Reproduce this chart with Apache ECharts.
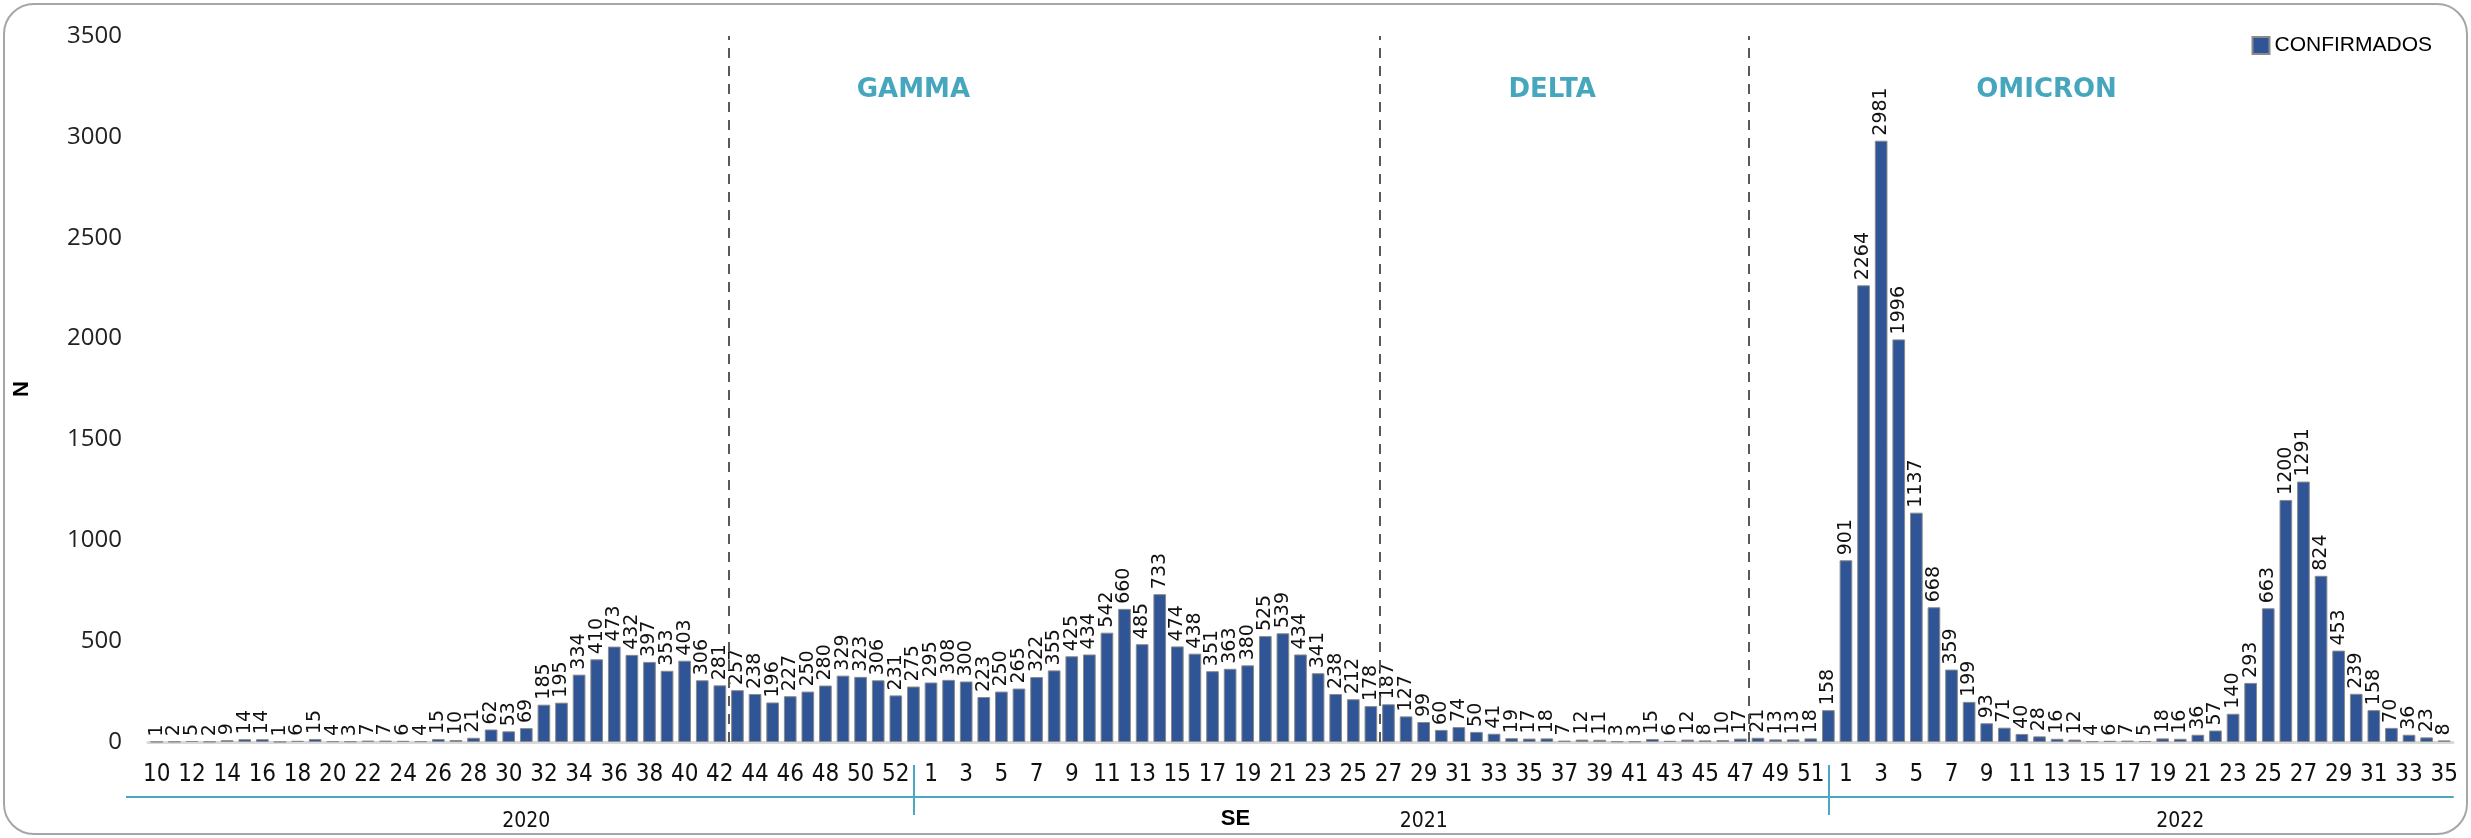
<!DOCTYPE html>
<html>
<head>
<meta charset="utf-8">
<script src="https://cdn.jsdelivr.net/npm/echarts@6/dist/echarts.min.js"></script>
<style>
html,body{margin:0;padding:0;background:#fff;}
#c{width:2471px;height:838px;}
</style>
</head>
<body>
<div id="c"></div>
<script>
// ---- Data ----
const weeks2020 = [10,11,12,13,14,15,16,17,18,19,20,21,22,23,24,25,26,27,28,29,30,31,32,33,34,35,36,37,38,39,40,41,42,43,44,45,46,47,48,49,50,51,52,53];
const weeks2021 = [1,2,3,4,5,6,7,8,9,10,11,12,13,14,15,16,17,18,19,20,21,22,23,24,25,26,27,28,29,30,31,32,33,34,35,36,37,38,39,40,41,42,43,44,45,46,47,48,49,50,51,52];
const weeks2022 = [1,2,3,4,5,6,7,8,9,10,11,12,13,14,15,16,17,18,19,20,21,22,23,24,25,26,27,28,29,30,31,32,33,34,35];

const cases2020 = [1,2,5,2,9,14,14,1,6,15,4,3,7,7,6,4,15,10,21,62,53,69,185,195,334,410,473,432,397,353,403,306,281,257,238,196,227,250,280,329,323,306,231,275];
const cases2021 = [295,308,300,223,250,265,322,355,425,434,542,660,485,733,474,438,351,363,380,525,539,434,341,238,212,178,187,127,99,60,74,50,41,19,17,18,7,12,11,3,3,15,6,12,8,10,17,21,13,13,18,158];
const cases2022 = [901,2264,2981,1996,1137,668,359,199,93,71,40,28,16,12,4,6,7,5,18,16,36,57,140,293,663,1200,1291,824,453,239,158,70,36,23,8];

const years = ['2020','2021','2022'];
const seriesName = 'CONFIRMADOS';
const yTicks = [0,500,1000,1500,2000,2500,3000,3500];

// variant periods: name, [year, start week]
const variants = ['GAMMA','DELTA','OMICRON'];
const variantStart = [[2020,43],[2021,27],[2021,48]];

// ---- Build ----
const categories = [].concat(weeks2020, weeks2021, weeks2022).map(String);
const yearOf = [].concat(weeks2020.map(()=>years[0]), weeks2021.map(()=>years[1]), weeks2022.map(()=>years[2]));
const values = [].concat(cases2020, cases2021, cases2022);
const n = categories.length;

function catIndex(year, week){
  for (let i=0;i<n;i++){ if (yearOf[i]===String(year) && categories[i]===String(week)) return i; }
  return -1;
}
const boundaries = variantStart.map(v => catIndex(v[0], v[1]) - 0.5);
// last index of each year group (year separators drawn at that bar)
const yearEnds = years.slice(0, -1).map(y => yearOf.lastIndexOf(y));
// where year labels are printed (category index)
const yearLabelPos = [21, 72, 115];
// label anchor of variant names (category units)
const variantLabelX = [43.0, 79.3, 107.4];

const teal = '#1790AE';
const axisTeal = '#4DA7C2';

const chart = echarts.init(document.getElementById('c'), null, {renderer:'canvas'});
const option = {
  animation: false,
  backgroundColor: '#fff',
  grid: {left:148, right:18, top:36, bottom:96, containLabel:false},
  legend: {
    data: [seriesName], right: 34, top: 30, itemWidth: 17, itemHeight: 17, itemGap: 6,
    icon: 'rect',
    textStyle: {fontSize: 21, fontFamily: 'Liberation Sans, Arial, sans-serif', color: '#000'}
  },
  title: {
    text: 'SE', left: 'center', top: 803,
    textStyle: {fontSize: 22, fontWeight: 'bold', fontFamily: 'Liberation Sans, Arial, sans-serif', color: '#000'}
  },
  graphic: [{
    type: 'rect', silent: true, z: -10,
    shape: {x: 4, y: 4, width: 2463, height: 830, r: 30},
    style: {fill: 'none', stroke: '#a6a6a6', lineWidth: 2}
  }, {
    type: 'line', silent: true,
    shape: {x1: 126, y1: 797, x2: 150, y2: 797},
    style: {stroke: axisTeal, lineWidth: 2}
  }],
  xAxis: [
    {
      type: 'category', data: categories, gridIndex: 0, position: 'bottom',
      axisLine: {show: true, lineStyle: {color: '#d9d9d9', width: 3}},
      axisTick: {show: false},
      splitLine: {show: false},
      axisLabel: {interval: 1, fontSize: 24, margin: 21, color: '#111',
        fontFamily: "'Liberation Sans Narrow', 'DejaVu Sans Condensed', 'Arial Narrow', sans-serif"}
    },
    {
      type: 'category', data: categories, gridIndex: 0, position: 'bottom', offset: 55,
      axisLine: {show: true, lineStyle: {color: axisTeal, width: 2}},
      axisTick: {show: true, inside: true, length: 32, alignWithLabel: true,
        interval: (i) => yearEnds.indexOf(i) >= 0, lineStyle: {color: axisTeal, width: 2}},
      axisLabel: {show: true, interval: (i) => yearLabelPos.indexOf(i) >= 0,
        formatter: (v, i) => yearOf[i], margin: 14, fontSize: 21, color: '#111',
        fontFamily: "'Liberation Sans Narrow', 'DejaVu Sans Condensed', sans-serif"},
      splitLine: {show: false}
    },
    {
      type: 'category', data: categories, gridIndex: 0, position: 'bottom', offset: 55,
      axisLine: {show: false},
      axisTick: {show: true, inside: false, length: 18, alignWithLabel: true,
        interval: (i) => yearEnds.indexOf(i) >= 0, lineStyle: {color: axisTeal, width: 2}},
      axisLabel: {show: false},
      splitLine: {show: false}
    },
    {
      type: 'value', gridIndex: 0, min: -0.5, max: n - 0.5, show: false
    }
  ],
  yAxis: {
    type: 'value', min: 0, max: 3500, interval: 500,
    axisLine: {show: false}, axisTick: {show: false}, splitLine: {show: false},
    axisLabel: {fontSize: 24, margin: 26, color: '#222',
      fontFamily: "'Open Sans', 'DejaVu Sans', sans-serif",
      formatter: (v) => yTicks.indexOf(v) >= 0 ? String(v) : ''},
    name: 'N', nameLocation: 'middle', nameGap: 115, nameRotate: 90,
    nameTextStyle: {fontSize: 22, fontWeight: 'bold', color: '#000', fontFamily: 'Liberation Sans, Arial, sans-serif'}
  },
  series: [
    {
      name: seriesName, type: 'bar', data: values, xAxisIndex: 0, yAxisIndex: 0,
      barCategoryGap: '28%',
      itemStyle: {color: '#2F5597', borderColor: '#8a8a8a', borderWidth: 1},
      label: {show: true, position: 'top', rotate: 90, align: 'left', verticalAlign: 'middle',
        distance: 5, fontSize: 19, color: '#111', fontFamily: "'DejaVu Sans', sans-serif"}
    },
    {
      name: 'variants', type: 'scatter', xAxisIndex: 3, yAxisIndex: 0,
      symbolSize: 0, silent: true,
      data: variants.map((v, i) => ({name: v, value: [variantLabelX[i], 3232]})),
      label: {show: true, position: 'inside', formatter: '{b}', fontSize: 26, fontWeight: 'bold',
        color: teal, fontFamily: "'DejaVu Sans', sans-serif"},
      markLine: {
        symbol: 'none', silent: true, animation: false,
        label: {show: false},
        lineStyle: {type: [10, 8], color: '#595959', width: 2},
        data: boundaries.map(b => ({xAxis: b}))
      }
    }
  ]
};
chart.setOption(option);
</script>
</body>
</html>
